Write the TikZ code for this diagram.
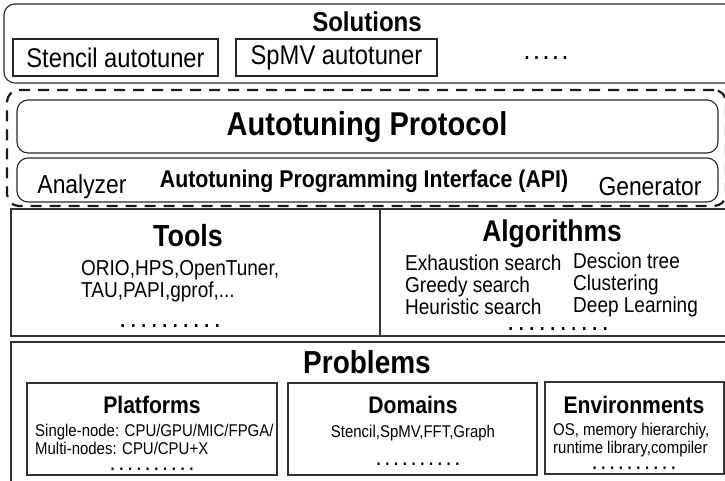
\documentclass[tikz,border=0pt]{standalone}
\usepackage{fontspec}
\setmainfont{Liberation Sans}[FakeStretch=0.88]
\newcommand\fs[2]{\fontsize{#1}{#2}\selectfont}
% a row of bold periods with a fixed gap
\newcommand\spdots[2]{\count255=0 \loop\textbf{.}\advance\count255 by 1 \ifnum\count255<#1 \hspace{#2}\repeat}
\tikzset{
  frame/.style={draw=black!85, line width=1.1pt, inner sep=0pt},
  rframe/.style={frame, rounded corners=11pt},
  thick frame/.style={draw=black!85, line width=2pt, inner sep=0pt},
  thin frame/.style={draw=black!80, line width=1.3pt, inner sep=0pt},
  title/.style={inner sep=0pt, font=\fs{#1}{#1}\bfseries},
  txt/.style={inner sep=0pt, font=\fs{#1}{#1}},
  list/.style={inner sep=0pt, anchor=west, align=left, font=\fs{21.6}{22}},
  small list/.style={inner sep=0pt, anchor=west, align=left, font=\fs{17}{18}},
  dotrow/.style={inner sep=0pt, font=\fs{#1}{#1}},
}
\begin{document}
\begin{tikzpicture}[x=1pt, y=-1pt]
\clip (0,0) rectangle (725,481);

% ---- Solutions layer
\node[rframe, minimum width=736pt, minimum height=79pt] (sol) at (372,43.5) {};
\node[title=27.3] (soltitle) at (367,22) {Solutions};
\node[thick frame, minimum width=205pt, minimum height=37pt, txt=27] (stencil) at (115.5,57.5) {Stencil autotuner};
\node[thick frame, minimum width=201pt, minimum height=37pt, txt=27] (spmv) at (336.5,57.5) {SpMV autotuner};
\node[dotrow=20] (soldots) at (546,58) {\spdots{5}{4.6pt}};

% ---- Autotuning layer (dashed envelope)
\node[draw=black!90, line width=2.2pt, dash pattern=on 11pt off 8pt, rounded corners=12pt,
      minimum width=719pt, minimum height=116pt] (env) at (366.5,148) {};
\node[rframe, minimum width=701pt, minimum height=53pt] (proto) at (367.5,126.5) {};
\node[title=33] (prototitle) at (367,127) {Autotuning Protocol};
\node[rframe, minimum width=701pt, minimum height=44pt] (api) at (367.5,180) {};
\node[title=24.2] (apititle) at (364,181) {Autotuning Programming Interface (API)};
\node[txt=26] (analyzer) at (82,187) {Analyzer};
\node[txt=26] (generator) at (650,187) {Generator};

% ---- Tools / Algorithms layer
\node[thin frame, minimum width=729pt, minimum height=127pt] (ta) at (375.5,272.5) {};
\draw[black!80, line width=1.3pt] (380,209) -- (380,336);
\node[title=30.5] (tools) at (188,236) {Tools};
\node[list] (toolslist) at (81,281)
  {ORIO,HPS,OpenTuner,\\TAU,PAPI,gprof,...};
\node[dotrow=20] (tooldots) at (170,326) {\spdots{10}{5.6pt}};
\node[title=30] (algo) at (552,234) {Algorithms};
\node[list] (algo1) at (405,285)
  {Exhaustion search\\Greedy search\\Heuristic search};
\node[list] (algo2) at (573,285)
  {Descion tree\\Clustering\\Deep Learning};
\node[dotrow=20] (algodots) at (558,329) {\spdots{10}{5.6pt}};

% ---- Problems layer
\node[thin frame, minimum width=729pt, minimum height=150pt] (prob) at (375.5,417) {};
\node[title=31.8] (probtitle) at (367,362) {Problems};

\node[thin frame, minimum width=250pt, minimum height=92pt] (plat) at (152,429) {};
\node[title=24] (plattitle) at (152,405) {Platforms};
\node[small list] (platlist) at (35,439)
  {Single-node: CPU/GPU/MIC/FPGA/\\Multi-nodes: CPU/CPU+X};
\node[dotrow=17] (platdots) at (152,469.5) {\spdots{10}{4.6pt}};

\node[thin frame, minimum width=249pt, minimum height=92pt] (dom) at (412.5,429) {};
\node[title=24] (domtitle) at (413,405) {Domains};
\node[txt=17] (domlist) at (413,433) {Stencil,SpMV,FFT,Graph};
\node[dotrow=17] (domdots) at (418,464) {\spdots{10}{4.6pt}};

\node[thin frame, minimum width=179pt, minimum height=92pt] (envb) at (634.5,428) {};
\node[title=24] (envtitle) at (634,405) {Environments};
\node[small list] (envlist) at (553,440)
  {OS, memory hierarchiy,\\runtime library,compiler};
\node[dotrow=17] (envdots) at (634,468) {\spdots{10}{4.6pt}};
\end{tikzpicture}
\end{document}
